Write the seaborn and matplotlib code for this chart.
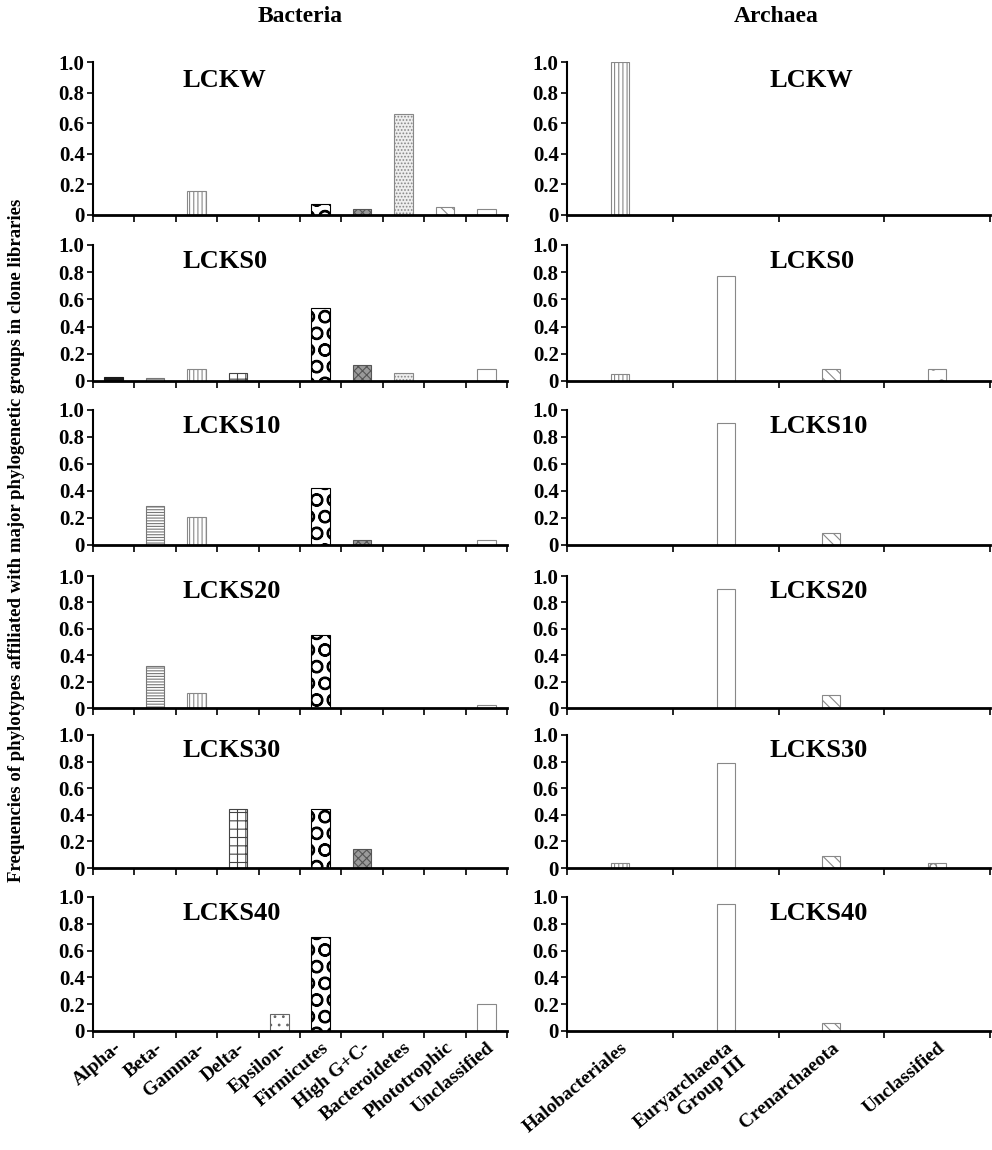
import matplotlib
matplotlib.use("Agg")
import matplotlib.pyplot as plt
import seaborn as sns
import numpy as np

libraries = ["LCKW", "LCKS0", "LCKS10", "LCKS20", "LCKS30", "LCKS40"]

bact_groups = ["Alpha-", "Beta-", "Gamma-", "Delta-", "Epsilon-", "Firmicutes",
               "High G+C-", "Bacteroidetes", "Phototrophic", "Unclassified"]
bact_lckw = [0, 0, 0.16, 0, 0, 0.07, 0.04, 0.66, 0.05, 0.04]
bact_lcks0 = [0.03, 0.02, 0.09, 0.06, 0, 0.54, 0.12, 0.06, 0, 0.09]
bact_lcks10 = [0, 0.29, 0.21, 0, 0, 0.42, 0.04, 0, 0, 0.04]
bact_lcks20 = [0, 0.32, 0.11, 0, 0, 0.55, 0, 0, 0, 0.02]
bact_lcks30 = [0, 0, 0, 0.44, 0, 0.44, 0.14, 0, 0, 0]
bact_lcks40 = [0, 0, 0, 0, 0.13, 0.70, 0, 0, 0, 0.20]

arch_groups = ["Halobacteriales", "Euryarchaeota\nGroup III", "Crenarchaeota", "Unclassified"]
arch_lckw = [1.0, 0, 0, 0]
arch_lcks0 = [0.05, 0.77, 0.09, 0.09]
arch_lcks10 = [0, 0.90, 0.09, 0]
arch_lcks20 = [0, 0.90, 0.10, 0]
arch_lcks30 = [0.04, 0.79, 0.09, 0.04]
arch_lcks40 = [0, 0.95, 0.06, 0]

bact_data = [bact_lckw, bact_lcks0, bact_lcks10, bact_lcks20, bact_lcks30, bact_lcks40]
arch_data = [arch_lckw, arch_lcks0, arch_lcks10, arch_lcks20, arch_lcks30, arch_lcks40]

# fill styles: (facecolor, edgecolor, hatch)
bact_styles = [("#1a1a1a", "#1a1a1a", None),
               ("white", "#777777", "------"),
               ("white", "#888888", "||||"),
               ("white", "#444444", "++"),
               ("white", "#666666", ".."),
               ("white", "black", "O"),
               ("#9a9a9a", "#555555", "xxxx"),
               ("#eeeeee", "#888888", "....."),
               ("white", "#888888", "\\\\\\"),
               ("white", "#888888", None)]
arch_styles = [("white", "#888888", "||||"),
               ("white", "#888888", None),
               ("white", "#888888", "\\\\\\"),
               ("white", "#888888", "o")]

sns.set_style("ticks")
plt.rcParams["font.family"] = ["Liberation Serif", "DejaVu Serif"]
plt.rcParams["font.weight"] = "bold"
plt.rcParams["hatch.linewidth"] = 0.8
for key in ["text.color", "axes.labelcolor", "xtick.color", "ytick.color", "axes.edgecolor"]:
    plt.rcParams[key] = "black"

fig = plt.figure(figsize=(9.92, 11.5), dpi=100)
W, H = 992.0, 1150.0
rows_px = [(62, 215), (245, 381), (410, 545), (576, 708), (735, 868), (897, 1031)]


def style_axes(ax, n, xmax, groups, show_labels):
    ax.set_ylim(0, 1.0)
    ax.set_xlim(-0.5, xmax)
    ax.set_yticks([0, 0.2, 0.4, 0.6, 0.8, 1.0])
    ax.set_yticklabels(["0", "0.2", "0.4", "0.6", "0.8", "1.0"], fontsize=15, fontweight="bold")
    ax.set_xticks(np.arange(n + 1) - 0.5)
    ax.set_xticklabels([])
    ax.set_xticks(np.arange(n), minor=True)
    if show_labels:
        ax.set_xticklabels(groups, minor=True, rotation=40, ha="right",
                           rotation_mode="anchor", fontsize=14, fontweight="bold")
    ax.tick_params(axis="x", which="major", direction="out", length=5, width=1.2)
    ax.tick_params(axis="x", which="minor", length=0, pad=6)
    ax.tick_params(axis="y", direction="out", length=4, width=1.2, pad=2)
    sns.despine(ax=ax)
    ax.spines["left"].set_linewidth(1.5)
    ax.spines["bottom"].set_linewidth(2.0)
    ax.set_xlabel("")
    ax.set_ylabel("")


def paint(ax, styles):
    for patch, (fc, ec, hatch) in zip(ax.patches, styles):
        patch.set_facecolor(fc)
        patch.set_edgecolor(ec)
        patch.set_linewidth(0.8)
        if hatch:
            patch.set_hatch(hatch)
        if hatch == "O" and hasattr(patch, "set_hatch_linewidth"):
            patch.set_hatch_linewidth(1.5)


for i, (top, bot) in enumerate(rows_px):
    last = i == len(rows_px) - 1
    # Bacteria
    axb = fig.add_axes([93 / W, 1 - bot / H, (507 - 93) / W, (bot - top) / H])
    sns.barplot(x=bact_groups, y=bact_data[i], ax=axb, width=0.45, color="white")
    paint(axb, bact_styles)
    style_axes(axb, len(bact_groups), 9.5, bact_groups, last)
    axb.text(0.217, 0.88, libraries[i], transform=axb.transAxes, ha="left",
             va="center", fontsize=19, fontweight="bold")
    # Archaea
    axa = fig.add_axes([567 / W, 1 - bot / H, (990 - 567) / W, (bot - top) / H])
    sns.barplot(x=arch_groups, y=arch_data[i], ax=axa, width=0.17, color="white")
    paint(axa, arch_styles)
    style_axes(axa, len(arch_groups), 3.43, arch_groups, last)
    axa.text(0.478, 0.88, libraries[i], transform=axa.transAxes, ha="left",
             va="center", fontsize=19, fontweight="bold")

fig.text(300 / W, 1 - 16 / H, "Bacteria", ha="center", va="center", fontsize=17, fontweight="bold")
fig.text(776 / W, 1 - 16 / H, "Archaea", ha="center", va="center", fontsize=17, fontweight="bold")
fig.text(17 / W, 1 - 540 / H,
         "Frequencies of phylotypes affiliated with major phylogenetic groups in clone libraries",
         rotation=90, ha="center", va="center", fontsize=13.5, fontweight="bold")

fig.savefig("out.png", dpi=100)
